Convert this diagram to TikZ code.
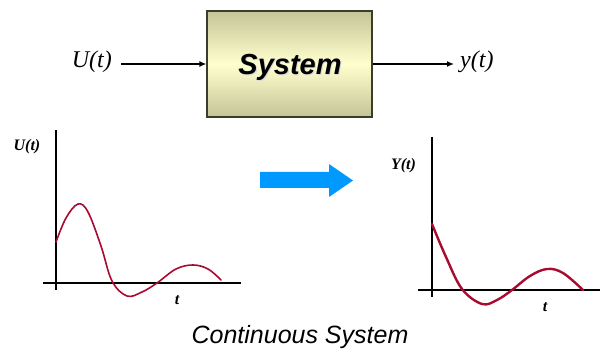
\documentclass[tikz,border=0pt]{standalone}
\usepackage{fontspec}
\setmainfont{Liberation Serif}
\setsansfont{Liberation Sans}
\usetikzlibrary{arrows.meta}
\definecolor{boxedge}{RGB}{60,60,45}
\definecolor{boxtop}{RGB}{196,196,152}
\definecolor{boxmid}{RGB}{255,255,206}
\definecolor{curvered}{RGB}{168,10,48}
\definecolor{bluearrow}{RGB}{0,153,255}
\tikzset{
  sysbox/.style={draw=boxedge, line width=1.2pt, minimum width=165pt, minimum height=106pt,
    top color=boxtop, bottom color=boxtop, middle color=boxmid, inner sep=0pt},
  sigline/.style={line width=1.4pt, -{Latex[length=7pt,width=6pt]}},
  serlabel/.style={font=\fontsize{24}{24}\selectfont\itshape, inner sep=0pt},
  plotlabel/.style={font=\fontsize{16}{16}\selectfont\bfseries\itshape, inner sep=0pt},
  axisline/.style={line width=1.2pt, black},
  response/.style={curvered, line cap=round, line join=round},
}
\begin{document}
\begin{tikzpicture}[x=1pt, y=-1pt]
\useasboundingbox (0,0) rectangle (606,352);
% block diagram
\node[sysbox] (sys) at (289.5,64) {};
\node[font=\fontsize{29}{29}\selectfont\sffamily\bfseries\itshape, text=white!85!black, inner sep=0pt] at (291.2,68.2) {System};
\node[font=\fontsize{29}{29}\selectfont\sffamily\bfseries\itshape, inner sep=0pt] (systxt) at (290,67) {System};
\node[serlabel, anchor=east] (uin) at (112,62) {U(t)};
\node[serlabel, anchor=west] (yout) at (460,62) {y(t)};
\draw[sigline] (uin.east |- sys.west) ++(9,0) coordinate (uinstart) -- (sys.west);
\draw[sigline, shorten >=6pt] (sys.east) -- (yout.west |- sys.east) coordinate (yend);
% left plot
\coordinate (lorg) at (56,283);
\draw[axisline] (56,130) coordinate (ltop) -- (56,290) coordinate (lbot);
\draw[axisline] (43,283) coordinate (lleft) -- (241,283) coordinate (lright);
\node[plotlabel] (lylab) at (27,147) {U(t)};
\node[plotlabel] (ltlab) at (177,300) {t};
\draw[response, line width=1.6pt] plot[smooth, tension=0.6] coordinates
  {(56,242) (66,218) (78,204) (88,212) (101,246) (112,281) (127,296) (142,292) (157,283) (176,269) (193,265) (208,269) (221,280)};
% blue arrow
\fill[bluearrow] (260,172) -- (329,172) -- (329,164) -- (353,180.5) -- (329,197) -- (329,188) -- (260,188) -- cycle;
% right plot
\draw[axisline] (432,137) coordinate (rtop) -- (432,297) coordinate (rbot);
\draw[axisline] (418,290) coordinate (rleft) -- (600,290) coordinate (rright);
\node[plotlabel] (rylab) at (403.5,166) {Y(t)};
\node[plotlabel] (rtlab) at (545,307) {t};
\draw[response, line width=2.4pt] plot[smooth, tension=0.6] coordinates
  {(432,224) (446,257) (462,289) (482,304) (497,300) (512,290) (530,276) (547,269) (563,273) (583,290)};
% caption
\node[font=\fontsize{25}{25}\selectfont\sffamily\itshape, inner sep=0pt] (cap) at (300,337) {Continuous System};
\end{tikzpicture}
\end{document}
